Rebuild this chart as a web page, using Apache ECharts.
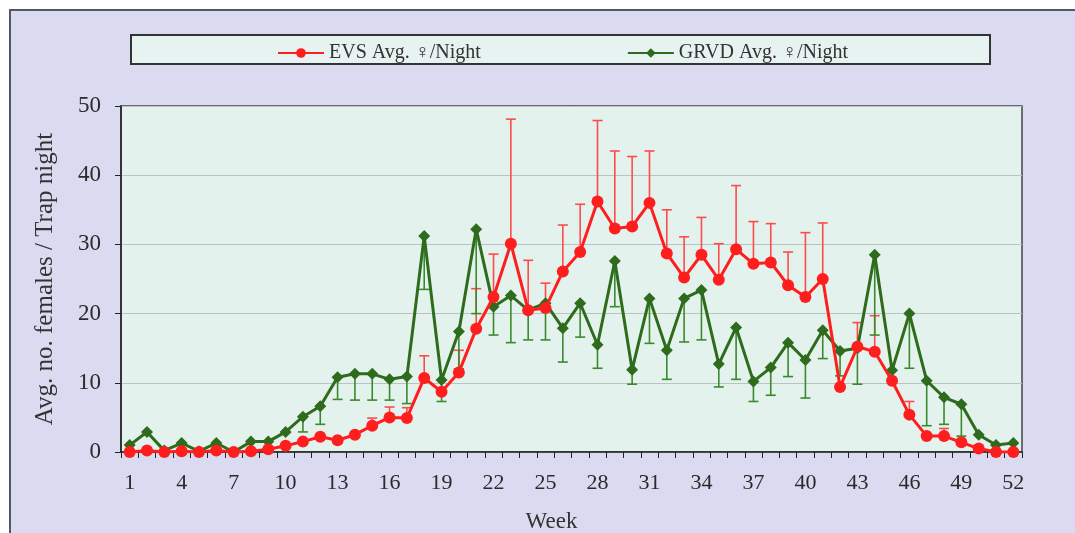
<!DOCTYPE html>
<html>
<head>
<meta charset="utf-8">
<script src="https://cdn.jsdelivr.net/npm/echarts@6/dist/echarts.min.js"></script>
<style>html,body{margin:0;padding:0;background:#fff}#c{width:1075px;height:533px}</style>
</head>
<body>
<div id="c"></div>
<script>
var weeks = ['1','2','3','4','5','6','7','8','9','10','11','12','13','14','15','16','17','18','19','20','21','22','23','24','25','26','27','28','29','30','31','32','33','34','35','36','37','38','39','40','41','42','43','44','45','46','47','48','49','50','51','52'];
var yTicks = [0, 10, 20, 30, 40, 50];
var evsAvg = [0,0.2,0,0.1,0,0.2,0,0.1,0.4,0.9,1.5,2.2,1.7,2.5,3.8,5.0,4.9,10.7,8.7,11.5,17.8,22.4,30.1,20.5,20.8,26.1,28.9,36.2,32.3,32.6,36.0,28.7,25.2,28.5,24.9,29.3,27.2,27.4,24.1,22.4,25.0,9.4,15.2,14.5,10.3,5.4,2.3,2.3,1.4,0.5,0,0];
// upper end of the EVS error bars (null = no bar visible)
var evsUpper = [null,null,null,null,null,null,null,null,null,null,null,null,null,null,4.9,6.5,6.4,13.9,null,14.7,23.6,28.6,48.1,27.7,24.4,32.8,35.8,47.9,43.5,42.7,43.5,35.0,31.1,33.9,30.1,38.5,33.3,33.0,28.9,31.7,33.1,null,18.7,19.7,null,7.3,null,3.4,null,null,null,null];
var grvdAvg = [1.0,2.9,0.2,1.3,0.1,1.3,0,1.5,1.5,2.9,5.1,6.6,10.8,11.3,11.3,10.5,10.9,31.2,10.4,17.4,32.2,21.0,22.6,20.5,21.5,17.9,21.5,15.5,27.6,11.9,22.2,14.7,22.2,23.4,12.7,18.0,10.2,12.2,15.8,13.3,17.6,14.6,15.0,28.5,11.8,20.0,10.3,7.9,6.9,2.5,1.0,1.3];
// lower end of the GRVD error bars (null = no bar visible)
var grvdLower = [null,null,null,null,null,null,null,null,null,null,2.9,4.0,7.6,7.5,7.5,7.5,7.0,23.5,7.3,12.0,20.0,16.9,15.8,16.2,16.2,13.0,16.6,12.1,21.0,9.8,15.7,10.5,15.9,16.2,9.4,10.5,7.3,8.2,10.9,7.8,13.5,11.0,9.8,16.9,null,12.1,3.8,4.0,2.3,null,null,null];
var seriesNames = ['EVS Avg. \u2640/Night', 'GRVD Avg. \u2640/Night'];

function errData(avg, end) {
  var out = [];
  for (var i = 0; i < avg.length; i++) {
    if (end[i] !== null) out.push([i, avg[i], end[i]]);
  }
  return out;
}
function errRender(color) {
  return function (params, api) {
    var p0 = api.coord([api.value(0), api.value(1)]);
    var p1 = api.coord([api.value(0), api.value(2)]);
    var hw = 5;
    var st = { stroke: color, lineWidth: 1.6 };
    return {
      type: 'group',
      children: [
        { type: 'line', shape: { x1: p0[0], y1: p0[1], x2: p1[0], y2: p1[1] }, style: st },
        { type: 'line', shape: { x1: p1[0] - hw, y1: p1[1], x2: p1[0] + hw, y2: p1[1] }, style: st }
      ]
    };
  };
}

var serif = '"Liberation Serif", "Times New Roman", serif';
var chart = echarts.init(document.getElementById('c'), null, { renderer: 'canvas' });
chart.setOption({
  backgroundColor: '#ffffff',
  animation: false,
  graphic: [
    { type: 'rect', z: -10, shape: { x: 10, y: 10, width: 1080, height: 540 },
      style: { fill: '#dadaf0', stroke: '#55556a', lineWidth: 2 } },
    { type: 'rect', z: -5, shape: { x: 131, y: 35, width: 859, height: 29 },
      style: { fill: '#e6f3f0', stroke: '#333333', lineWidth: 2 } }
  ],
  legend: {
    top: 38,
    left: 272,
    itemGap: 146,
    itemWidth: 46,
    itemHeight: 12,
    data: seriesNames,
    textStyle: { fontFamily: serif, fontSize: 20, color: '#333' }
  },
  grid: {
    left: 121, right: 53, top: 106, bottom: 81,
    outerBoundsMode: 'none',
    containLabel: false,
    show: true, backgroundColor: '#e4f2ee', borderColor: '#444', borderWidth: 1.5
  },
  xAxis: {
    type: 'category',
    data: weeks,
    boundaryGap: true,
    name: 'Week',
    nameLocation: 'middle',
    nameGap: 58,
    nameTextStyle: { fontFamily: serif, fontSize: 23, color: '#333', padding: [0, 40, 0, 0] },
    axisLine: { lineStyle: { color: '#222', width: 1.5 } },
    axisTick: { show: true, interval: 0, length: 6, lineStyle: { color: '#222' } },
    axisLabel: { interval: 2, fontFamily: serif, fontSize: 22, color: '#2a2a2a', margin: 20 },
    splitLine: { show: false }
  },
  yAxis: {
    type: 'value',
    min: yTicks[0], max: yTicks[yTicks.length - 1], interval: 10,
    name: 'Avg. no. females / Trap night',
    nameLocation: 'middle',
    nameGap: 63,
    nameTextStyle: { fontFamily: serif, fontSize: 25, color: '#333' },
    axisLine: { show: true, lineStyle: { color: '#222', width: 1.5 } },
    axisTick: { show: true, length: 6, lineStyle: { color: '#222' } },
    axisLabel: { fontFamily: serif, fontSize: 23, color: '#2a2a2a', margin: 20 },
    splitLine: { show: true, lineStyle: { color: '#b8c4c2', width: 1 } }
  },
  series: [
    {
      type: 'custom', name: 'EVS err', z: 1,
      renderItem: errRender('#ff4a4a'),
      encode: { x: 0, y: [1, 2] },
      data: errData(evsAvg, evsUpper),
      silent: true
    },
    {
      type: 'custom', name: 'GRVD err', z: 1,
      renderItem: errRender('#3a8a2c'),
      encode: { x: 0, y: [1, 2] },
      data: errData(grvdAvg, grvdLower),
      silent: true
    },
    {
      name: seriesNames[1], type: 'line', z: 3,
      data: grvdAvg,
      symbol: 'diamond', symbolSize: 12,
      showAllSymbol: true,
      lineStyle: { color: '#2e6b1c', width: 3 },
      itemStyle: { color: '#2e6b1c' }
    },
    {
      name: seriesNames[0], type: 'line', z: 4,
      data: evsAvg,
      symbol: 'circle', symbolSize: 12,
      showAllSymbol: true,
      lineStyle: { color: '#ff1e1e', width: 3 },
      itemStyle: { color: '#ff1e1e' }
    }
  ]
});
</script>
</body>
</html>
